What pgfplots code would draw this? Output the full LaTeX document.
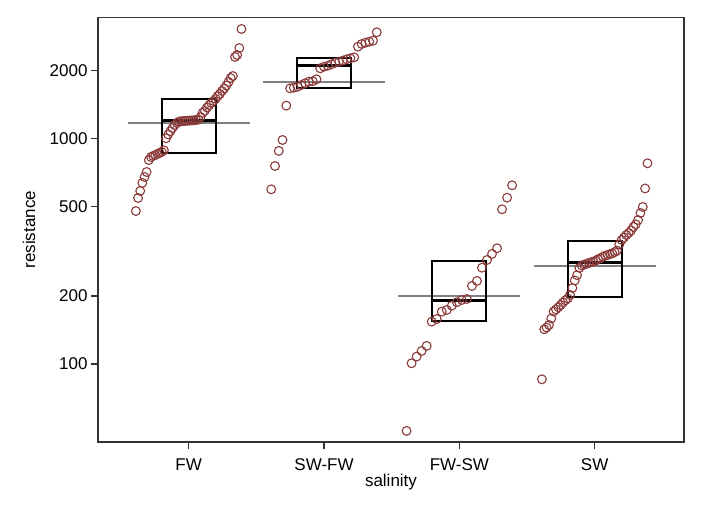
\documentclass[border=0pt]{standalone}
\usepackage{pgfplots}
\pgfplotsset{compat=1.18}
\usepackage{fontspec}
\setmainfont{Liberation Sans}
\definecolor{ptred}{RGB}{139,58,58}
\definecolor{meangray}{RGB}{128,128,128}
\begin{document}
\begin{tikzpicture}
\path[use as bounding box] (0pt,0pt) rectangle (704pt,512pt);
\begin{axis}[
  at={(98pt,70pt)}, anchor=south west,
  scale only axis, width=586pt, height=424.5pt,
  xmin=0.33, xmax=4.66,
  ymode=log, ymin=45.1, ymax=3430,
  xtick={1,2,3,4}, xticklabels={FW,SW-FW,FW-SW,SW},
  ytick={100,200,500,1000,2000}, yticklabels={100,200,500,1000,2000},
  yminorticks=false, xminorticks=false,
  tick pos=left, tick align=outside, major tick length=7pt,
  axis line style={black!80, line width=1.2pt},
  every tick/.style={black!80, line width=1.2pt},
  ticklabel style={font=\fontsize{17}{20}\selectfont},
  xticklabel style={yshift=-6pt},
  /pgf/number format/assume math mode=true,
  label style={font=\fontsize{17}{20}\selectfont},
  xlabel={salinity}, ylabel={resistance},
  x label style={at={(axis description cs:0.5,-0.0942)}, anchor=center},
  y label style={at={(axis description cs:-0.1177,0.5)}, anchor=center},
]
% mean lines
\addplot[meangray, line width=2pt] coordinates {(0.55,1173) (1.45,1173)};
\addplot[meangray, line width=2pt] coordinates {(1.55,1782) (2.45,1782)};
\addplot[meangray, line width=2pt] coordinates {(2.55,200.7) (3.45,200.7)};
\addplot[meangray, line width=2pt] coordinates {(3.55,272.7) (4.45,272.7)};
% boxes
\addplot[black, line width=2pt, line join=miter] coordinates {(0.8,860) (1.2,860) (1.2,1490) (0.8,1490)} -- cycle;
\addplot[black, line width=3pt] coordinates {(0.8,1200) (1.2,1200)};
\addplot[black, line width=2pt, line join=miter] coordinates {(1.8,1676) (2.2,1676) (2.2,2262) (1.8,2262)} -- cycle;
\addplot[black, line width=3pt] coordinates {(1.8,2091) (2.2,2091)};
\addplot[black, line width=2pt, line join=miter] coordinates {(2.8,155.5) (3.2,155.5) (3.2,286) (2.8,286)} -- cycle;
\addplot[black, line width=3pt] coordinates {(2.8,191.5) (3.2,191.5)};
\addplot[black, line width=2pt, line join=miter] coordinates {(3.8,198.7) (4.2,198.7) (4.2,350.7) (3.8,350.7)} -- cycle;
\addplot[black, line width=3pt] coordinates {(3.8,282.2) (4.2,282.2)};
% points
\addplot[only marks, mark=o, mark size=4.4pt, ptred, line width=1.1pt]
  table[row sep=\\, x expr={0.61+0.78*\coordindex/49}, y=v] {
v\\ 476\\ 544\\ 584\\ 634\\ 674\\ 709\\ 801\\ 826\\ 835\\ 843\\
852\\ 861\\ 870\\ 885\\ 1000\\ 1040\\ 1075\\ 1110\\ 1145\\ 1169\\
1185\\ 1190\\ 1192\\ 1194\\ 1196\\ 1198\\ 1200\\ 1202\\ 1205\\ 1210\\
1243\\ 1298\\ 1323\\ 1368\\ 1402\\ 1433\\ 1463\\ 1494\\ 1540\\ 1572\\
1620\\ 1662\\ 1713\\ 1776\\ 1850\\ 1888\\ 2292\\ 2339\\ 2512\\ 3051\\
};
\addplot[only marks, mark=o, mark size=4.4pt, ptred, line width=1.1pt]
  table[row sep=\\, x expr={1.61+0.78*\coordindex/28}, y=v] {
v\\ 594\\ 754\\ 879\\ 983\\ 1395\\ 1665\\ 1676\\ 1693\\ 1723\\ 1753\\
1782\\ 1790\\ 1826\\ 2042\\ 2076\\ 2097\\ 2128\\ 2162\\ 2185\\ 2208\\
2239\\ 2262\\ 2285\\ 2546\\ 2617\\ 2652\\ 2680\\ 2707\\ 2949\\
};
\addplot[only marks, mark=o, mark size=4.4pt, ptred, line width=1.1pt]
  table[row sep=\\, x expr={2.61+0.78*\coordindex/21}, y=v] {
v\\ 50.5\\ 100.7\\ 107.8\\ 114.2\\ 120.2\\ 154\\ 158.2\\ 170.5\\ 173.5\\ 181.3\\
187.7\\ 192.1\\ 194.1\\ 221.6\\ 233.3\\ 267.1\\ 288.9\\ 307.3\\ 325.6\\ 484.7\\
545.5\\ 619\\
};
\addplot[only marks, mark=o, mark size=4.4pt, ptred, line width=1.1pt]
  table[row sep=\\, x expr={3.61+0.78*\coordindex/45}, y=v] {
v\\ 85.5\\ 142.5\\ 145\\ 148.9\\ 159.1\\ 170.8\\ 174.5\\ 178.3\\ 182.4\\ 187.3\\
191.3\\ 195.1\\ 202.2\\ 217.1\\ 234.4\\ 247.4\\ 266.3\\ 273.2\\ 275.7\\ 277.7\\
280.2\\ 282.5\\ 284.2\\ 287.1\\ 291.3\\ 294.3\\ 298.8\\ 301.6\\ 304.1\\ 306.9\\
309\\ 312.8\\ 317.9\\ 338.5\\ 354.3\\ 363.5\\ 372.9\\ 380.6\\ 390.5\\ 404.6\\
415.9\\ 434.5\\ 466.7\\ 496.2\\ 599.2\\ 774.9\\
};
\end{axis}
\end{tikzpicture}
\end{document}
